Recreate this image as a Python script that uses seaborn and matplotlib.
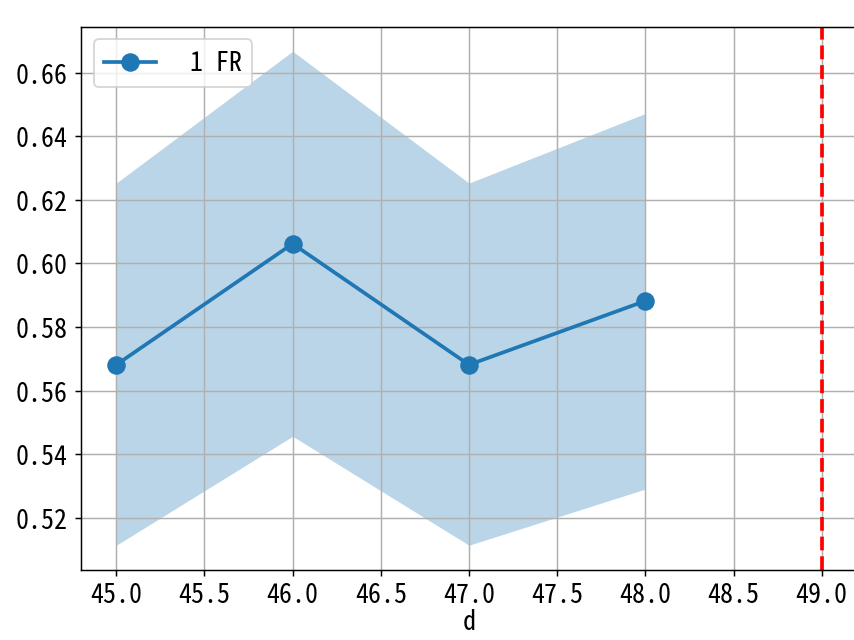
import pandas as pd
import matplotlib
matplotlib.use('Agg')
import matplotlib.pyplot as plt
import seaborn as sns

plt.rcParams['font.family'] = ['Noto Sans Mono CJK SC', 'Noto Sans CJK SC', 'DejaVu Sans']
plt.rcParams['axes.unicode_minus'] = False
plt.rcParams['font.size'] = 14
plt.rcParams['xtick.major.pad'] = 2.5

d_values = [45, 46, 47, 48]
fr_mean = [0.5681, 0.6062, 0.5681, 0.5882]
fr_upper = [0.6253, 0.6668, 0.6253, 0.6472]
fr_lower = [0.5113, 0.5456, 0.5113, 0.5290]
limit_d = 49

df = pd.DataFrame({'d': d_values, 'FR': fr_mean})

fig = plt.figure(figsize=(6.4, 4.8), dpi=133.44)
ax = fig.add_axes([81 / 854, 70 / 640, 776 / 854, 543 / 640])

sns.lineplot(data=df, x='d', y='FR', marker='o', markersize=10,
             markeredgewidth=0, linewidth=2, color='#1f77b4', label=' 1 FR', ax=ax)
ax.fill_between(d_values, fr_lower, fr_upper, color='#1f77b4', alpha=0.3, linewidth=0)
ax.axvline(limit_d, color='red', linestyle='--', linewidth=2)

ax.grid(True, color='#b0b0b0')
ax.set_xlabel('d', labelpad=0)
ax.set_ylabel('')
ax.legend(loc='upper left')

fig.savefig('out.png', dpi=133.44)
